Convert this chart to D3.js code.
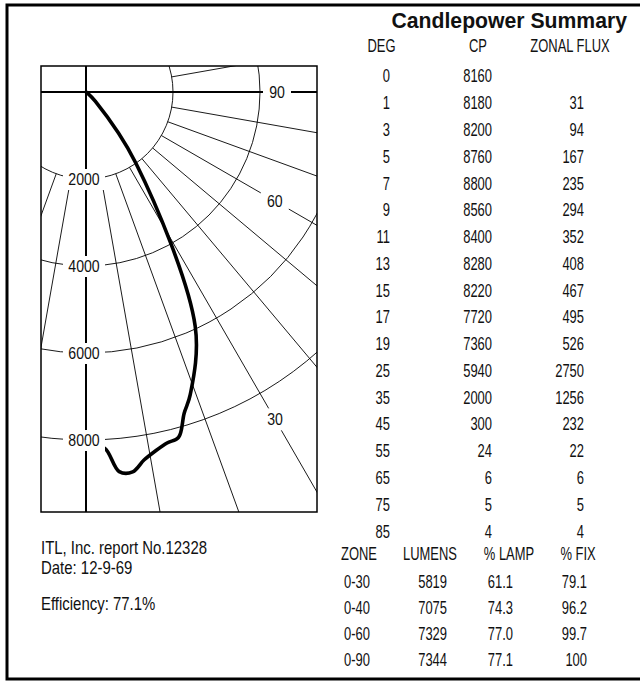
<!DOCTYPE html>
<html>
<head>
<meta charset="utf-8">
<script src="https://cdnjs.cloudflare.com/ajax/libs/d3/7.8.5/d3.min.js"></script>
<style>
  body { margin: 0; background: #fff; }
  text { font-family: "Liberation Sans", Arial, sans-serif; fill: #111; }
</style>
</head>
<body>
<svg id="chart"></svg>
<script>
// Candlepower table
const degrees = [0, 1, 3, 5, 7, 9, 11, 13, 15, 17, 19, 25, 35, 45, 55, 65, 75, 85];
const candlepower = [8160, 8180, 8200, 8760, 8800, 8560, 8400, 8280, 8220, 7720, 7360, 5940, 2000, 300, 24, 6, 5, 4];
const zonalFlux = ["", 31, 94, 167, 235, 294, 352, 408, 467, 495, 526, 2750, 1256, 232, 22, 6, 5, 4];

// Zonal lumen summary
const zones = ["0-30", "0-40", "0-60", "0-90"];
const lumens = [5819, 7075, 7329, 7344];
const pctLamp = ["61.1", "74.3", "77.0", "77.1"];
const pctFix = ["79.1", "96.2", "99.7", "100"];

// Polar grid
const rings = [2000, 4000, 6000, 8000];
const spokes = [-20, -10, 10, 20, 30, 40, 50, 60, 70, 80, 100];
const angleLabels = [90, 60, 30];

const notes = ["ITL, Inc. report No.12328", "Date: 12-9-69", "Efficiency: 77.1%"];

// Sizes
const [w, h] = [640, 682];
const box = { x0: 41, y0: 66, x1: 317, y1: 512 };
const origin = [86, 92];
const labelRadius = { 90: 191, 60: 218, 30: 378 };
const narrow = 0.72;   // horizontal squeeze for the condensed face
const tableSize = 18;

const svg = d3.select("#chart")
  .attr("width", w)
  .attr("height", h);

// text helper: condensed text through a horizontal scale
function addText(parent, data, o) {
  return parent.append("g")
    .selectAll("text")
    .data(data)
    .enter()
    .append("text")
    .attr("transform", (d, i) =>
      `translate(${o.x(d, i)},${o.y(d, i)}) scale(${o.sx || narrow},1)`)
    .attr("dy", "0.36em")
    .attr("text-anchor", o.anchor || "end")
    .style("font-size", `${o.size || tableSize}px`)
    .text(o.text || ((d) => d));
}

// outer frame (open on the right)
svg.append("path")
  .attr("d", `M${w},5 H7 V679 H${w}`)
  .attr("fill", "none")
  .attr("stroke", "#000")
  .attr("stroke-width", 3);

// scales: angle measured from nadir, growing to the right
const rScale = d3.scaleLinear().domain([0, 8000]).range([0, 348]);
const aScale = d3.scaleLinear().domain([0, 180]).range([Math.PI, 0]);
const polar = (deg, r) => {
  const a = aScale(deg);
  return [origin[0] + r * Math.sin(a), origin[1] - r * Math.cos(a)];
};

svg.append("clipPath")
  .attr("id", "boxclip")
  .append("rect")
  .attr("x", box.x0)
  .attr("y", box.y0)
  .attr("width", box.x1 - box.x0)
  .attr("height", box.y1 - box.y0);

const plot = svg.append("g").attr("clip-path", "url(#boxclip)");

// rings
plot.selectAll("circle.ring")
  .data(rings)
  .enter()
  .append("circle")
  .attr("class", "ring")
  .attr("cx", origin[0])
  .attr("cy", origin[1])
  .attr("r", (d) => rScale(d))
  .attr("fill", "none")
  .attr("stroke", "#000")
  .attr("stroke-width", 0.9);

// spokes start at the first ring
plot.selectAll("line.spoke")
  .data(spokes)
  .enter()
  .append("line")
  .attr("class", "spoke")
  .attr("x1", (d) => polar(d, rScale(rings[0]))[0])
  .attr("y1", (d) => polar(d, rScale(rings[0]))[1])
  .attr("x2", (d) => polar(d, 700)[0])
  .attr("y2", (d) => polar(d, 700)[1])
  .attr("stroke", "#000")
  .attr("stroke-width", 0.9);

// axes at 0 and 90 degrees
plot.append("line")
  .attr("x1", origin[0]).attr("y1", box.y0)
  .attr("x2", origin[0]).attr("y2", box.y1)
  .attr("stroke", "#000")
  .attr("stroke-width", 2);

plot.append("line")
  .attr("x1", box.x0).attr("y1", origin[1])
  .attr("x2", box.x1).attr("y2", origin[1])
  .attr("stroke", "#000")
  .attr("stroke-width", 2);

// candlepower curve
const curve = d3.lineRadial()
  .angle((d) => aScale(d[0]))
  .radius((d) => rScale(d[1]))
  .curve(d3.curveCatmullRom.alpha(0.5));

plot.append("path")
  .datum(degrees.map((d, i) => [d, candlepower[i]]))
  .attr("transform", `translate(${origin[0]},${origin[1]})`)
  .attr("d", curve)
  .attr("fill", "none")
  .attr("stroke", "#000")
  .attr("stroke-width", 3.6)
  .attr("stroke-linecap", "round")
  .attr("stroke-linejoin", "round");

// ring labels with white background
const ringLabel = plot.selectAll("g.ringlabel")
  .data(rings)
  .enter()
  .append("g")
  .attr("transform", (d) => `translate(${origin[0] - 2},${origin[1] + rScale(d)})`);

ringLabel.append("rect")
  .attr("x", -21).attr("y", -10)
  .attr("width", 42).attr("height", 21)
  .attr("fill", "#fff");

ringLabel.append("text")
  .attr("text-anchor", "middle")
  .attr("dy", "0.36em")
  .attr("transform", "scale(0.83,1)")
  .style("font-size", "17px")
  .text((d) => d);

// angle labels
const angLabel = plot.selectAll("g.anglabel")
  .data(angleLabels)
  .enter()
  .append("g")
  .attr("transform", (d) => `translate(${polar(d, labelRadius[d])})`);

angLabel.append("rect")
  .attr("x", -14).attr("y", -11)
  .attr("width", 28).attr("height", 22)
  .attr("fill", "#fff");

angLabel.append("text")
  .attr("text-anchor", "middle")
  .attr("dy", "0.36em")
  .attr("transform", "scale(0.83,1)")
  .style("font-size", "17px")
  .text((d) => d);

// box
svg.append("rect")
  .attr("x", box.x0)
  .attr("y", box.y0)
  .attr("width", box.x1 - box.x0)
  .attr("height", box.y1 - box.y0)
  .attr("fill", "none")
  .attr("stroke", "#000")
  .attr("stroke-width", 1.5);

// notes under the plot
addText(svg, notes, {
  x: () => 41,
  y: (d, i) => [548, 568, 604][i],
  anchor: "start",
  sx: 0.83
});

// title
svg.append("text")
  .attr("x", 627)
  .attr("y", 28)
  .attr("text-anchor", "end")
  .style("font-weight", "bold")
  .style("font-size", "21.2px")
  .text("Candlepower Summary");

// candlepower table
const rowY = d3.scaleBand().domain(degrees).range([62.6, 544.4]);
const cy = (d) => rowY(d) + rowY.bandwidth() / 2;

const headers = ["DEG", "CP", "ZONAL FLUX"];
const headerX = [381.5, 478, 570];
addText(svg, headers, {
  x: (d, i) => headerX[i],
  y: () => 46,
  anchor: "middle"
});

[[degrees, 390], [candlepower, 492], [zonalFlux, 584]].forEach(([values, x]) => {
  addText(svg, values, {
    x: () => x,
    y: (d, i) => cy(degrees[i])
  });
});

// zone table
const zoneY = d3.scaleBand().domain(zones).range([569, 673]);
const zy = (d) => zoneY(d) + zoneY.bandwidth() / 2;

const zoneHeaders = ["ZONE", "LUMENS", "% LAMP", "% FIX"];
const zoneHeaderX = [359, 430, 509, 578];
addText(svg, zoneHeaders, {
  x: (d, i) => zoneHeaderX[i],
  y: () => 554,
  anchor: "middle"
});

[[zones, 344, "start"], [lumens, 447, "end"], [pctLamp, 513, "end"], [pctFix, 587, "end"]]
  .forEach(([values, x, anchor]) => {
    addText(svg, values, {
      x: () => x,
      y: (d, i) => zy(zones[i]),
      anchor: anchor
    });
  });
</script>
</body>
</html>
